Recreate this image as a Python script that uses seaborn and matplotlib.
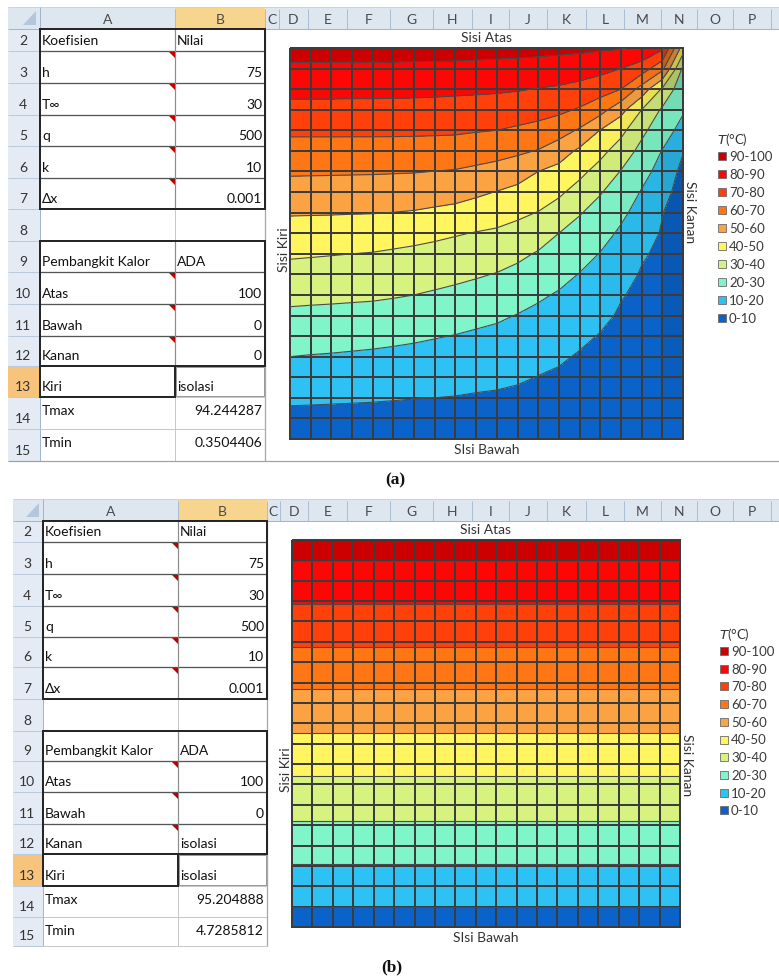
import numpy as np
import matplotlib
matplotlib.use("Agg")
import matplotlib.pyplot as plt
import seaborn as sns
from matplotlib.colors import ListedColormap
from matplotlib.patches import Rectangle, Polygon

# ---------------- data ----------------
band_levels = [0, 10, 20, 30, 40, 50, 60, 70, 80, 90, 100]
band_labels = ["0-10", "10-20", "20-30", "30-40", "40-50",
               "50-60", "60-70", "70-80", "80-90", "90-100"]
band_colors = ["#0B63C9", "#2DC1F4", "#80F5C9", "#D7F27F", "#FFF55E",
               "#FBA243", "#FF7614", "#FF400B", "#FF0606", "#CC0000"]

col_letters = list("ABCDEFGHIJKLMNOP")
row_numbers = list(range(2, 16))
sheet_labels = ["Koefisien", "h", "T\u221e", "q", "k", "\u0394x", "",
                "Pembangkit Kalor", "Atas", "Bawah", "Kanan", "Kiri", "Tmax", "Tmin"]
sheet_values_a = ["Nilai", "75", "30", "500", "10", "0.001", "",
                  "ADA", "100", "0", "0", "isolasi", "94.244287", "0.3504406"]
sheet_values_b = ["Nilai", "75", "30", "500", "10", "0.001", "",
                  "ADA", "100", "0", "isolasi", "isolasi", "95.204888", "4.7285812"]
side_labels = ["Sisi Atas", "SIsi Bawah", "Sisi Kiri", "Sisi Kanan"]
legend_title = "$\\mathit{T}$(\u00b0C)"
panel_tags = ["(a)", "(b)"]

# temperature field of panel (a): one list per grid column (left -> right),
# each from top row to bottom row
temp_a_cols = [
    [94.2, 88.2, 82.7, 77.2, 71.7, 66.4, 61.2, 56.0, 50.8, 46.0, 41.2, 36.7, 32.4, 28.2, 24.1, 20.0, 15.8, 11.6, 7.5, 3.5],
    [94.2, 88.2, 82.6, 77.2, 71.7, 66.4, 61.1, 55.9, 50.7, 45.7, 40.8, 36.4, 32.1, 27.9, 23.7, 19.6, 15.5, 11.4, 7.4, 3.5],
    [94.1, 88.2, 82.6, 77.2, 71.7, 66.4, 61.0, 55.8, 50.6, 45.5, 40.4, 36.1, 31.9, 27.6, 23.4, 19.3, 15.2, 11.2, 7.3, 3.5],
    [94.0, 88.2, 82.5, 77.1, 71.7, 66.3, 60.9, 55.6, 50.4, 45.2, 40.0, 35.7, 31.6, 27.3, 23.0, 18.9, 14.9, 11.0, 7.2, 3.4],
    [94.0, 88.2, 82.5, 77.1, 71.7, 66.3, 60.8, 55.5, 50.3, 44.9, 39.6, 35.4, 31.3, 27.0, 22.6, 18.5, 14.6, 10.8, 7.1, 3.4],
    [93.9, 88.2, 82.4, 77.0, 71.7, 66.2, 60.6, 55.2, 49.9, 44.0, 38.8, 34.7, 30.7, 26.4, 22.0, 18.0, 14.2, 10.5, 6.9, 3.35],
    [93.8, 88.1, 82.3, 76.9, 71.6, 66.1, 60.4, 54.9, 49.4, 43.1, 38.0, 34.0, 30.0, 25.7, 21.3, 17.5, 13.8, 10.2, 6.7, 3.3],
    [93.7, 88.0, 82.1, 76.7, 71.5, 65.8, 59.9, 54.2, 48.4, 41.9, 37.2, 33.1, 29.0, 24.8, 20.5, 16.9, 13.4, 10.0, 6.6, 3.25],
    [93.6, 87.9, 81.8, 76.4, 71.3, 65.5, 59.4, 53.5, 47.3, 40.7, 36.3, 32.1, 27.9, 23.8, 19.7, 16.3, 13.0, 9.7, 6.4, 3.2],
    [93.4, 87.6, 81.5, 76.0, 70.6, 64.4, 58.1, 51.7, 45.5, 39.6, 35.2, 30.9, 26.7, 22.5, 18.7, 15.6, 12.4, 9.2, 6.2, 3.15],
    [93.2, 87.3, 81.2, 75.6, 70.0, 63.3, 56.6, 49.7, 44.0, 38.6, 34.1, 29.6, 25.4, 21.3, 17.9, 14.8, 11.8, 8.9, 6.0, 3.1],
    [93.0, 86.9, 80.6, 74.7, 68.6, 61.7, 54.2, 47.5, 41.9, 36.8, 32.0, 27.6, 23.6, 19.7, 16.8, 13.9, 11.0, 8.3, 5.6, 3.0],
    [92.7, 86.3, 79.7, 73.6, 67.0, 59.5, 50.0, 44.9, 39.7, 34.3, 29.2, 25.2, 21.2, 18.1, 15.3, 12.5, 9.8, 7.5, 5.2, 2.9],
    [92.3, 85.7, 78.7, 72.0, 64.2, 54.7, 47.0, 41.6, 35.9, 30.0, 26.3, 22.6, 19.2, 16.5, 13.8, 11.1, 8.8, 6.8, 4.8, 2.75],
    [91.9, 84.7, 76.9, 69.0, 58.8, 48.2, 42.4, 36.5, 30.6, 26.8, 23.2, 19.7, 17.0, 14.3, 11.6, 9.3, 7.6, 6.0, 4.3, 2.6],
    [91.3, 82.8, 74.2, 63.8, 49.7, 42.8, 36.5, 30.6, 26.8, 23.2, 19.7, 17.1, 14.5, 11.8, 9.6, 8.1, 6.7, 5.2, 3.8, 2.35],
    [90.6, 80.0, 70.0, 53.3, 42.7, 35.6, 29.6, 25.8, 21.9, 18.6, 15.9, 13.2, 10.5, 9.1, 7.9, 6.7, 5.5, 4.4, 3.2, 2.1],
    [88.0, 75.3, 56.0, 40.0, 32.3, 27.2, 23.2, 19.4, 16.6, 13.7, 10.9, 9.3, 8.4, 7.4, 6.5, 5.5, 4.6, 3.6, 2.7, 1.7],
    [82.0, 62.5, 38.8, 28.6, 24.1, 19.7, 16.6, 13.4, 10.3, 9.3, 8.4, 7.6, 6.8, 5.9, 5.1, 4.3, 3.4, 2.6, 1.8, 1.0],
    [45.0, 28.0, 23.0, 21.0, 17.0, 10.5, 7.5, 5.8, 4.6, 3.8, 3.2, 2.7, 2.3, 1.9, 1.6, 1.3, 1.0, 0.8, 0.55, 0.35],
]
# panel (b): temperature only varies from top row to bottom row
temp_b_profile = [95.2, 90.1, 85.4, 80.7, 76.0, 71.2, 66.2, 61.4, 56.7, 52.3,
                  47.6, 42.8, 38.2, 33.6, 29.0, 24.2, 19.5, 14.8, 10.1, 4.7]
n_grid_cols_b = 20

# ---------------- setup ----------------
sns.set_theme(style="white")
plt.rcParams['font.family'] = ['Lato', 'DejaVu Sans']
W, H = 779, 979
fig = plt.figure(figsize=(W / 100, H / 100), dpi=100)
fig.patch.set_facecolor("white")
cv = fig.add_axes([0, 0, 1, 1])
cv.set_xlim(0, W)
cv.set_ylim(H, 0)
cv.axis("off")

FS = 10
PX = 0.72  # points per pixel


def line(x0, y0, x1, y1, c, wpx, z=3):
    cv.plot([x0, x1], [y0, y1], color=c, lw=wpx * PX, solid_capstyle="butt", zorder=z)


def draw_sheet(g, labels, values):
    x0, hx = g["x0"], g["hx"]
    ht, hb = g["hdr"]
    cb = g["cols"]
    rb = g["rows"]
    cv.add_patch(Rectangle((x0, ht), W - x0, hb - ht, fc="#DEE6F0", ec="none", zorder=1))
    line(x0, hb, W, hb, "#9EB6CE", 1)
    line(x0, ht, W, ht, "#C5D3E3", 1)
    cv.add_patch(Rectangle((x0, ht), hx - x0, hb - ht, fc="#DEE6F0", ec="none", zorder=1))
    cv.add_patch(Polygon([(hx - 4, ht + 4), (hx - 4, hb - 4), (hx - 17, hb - 4)],
                         closed=True, fc="#B4C6DC", ec="none", zorder=2))
    line(hx, ht, hx, hb, "#9EB6CE", 1)
    for k, letter in enumerate(col_letters):
        l, r = cb[k], cb[k + 1]
        if letter == "B":
            cv.add_patch(Rectangle((l, ht), r - l, hb - ht, fc="#F7D58F", ec="none", zorder=1.5))
        line(r, ht + 2, r, hb, "#A9BDD4", 1)
        cv.text((l + r) / 2, (ht + hb) / 2 + 1, letter, ha="center", va="center",
                fontsize=FS, color="#4A4A4A", zorder=4)
    cv.add_patch(Rectangle((x0, hb), hx - x0, rb[-1] - hb, fc="#E4EBF5", ec="none", zorder=1))
    line(hx, hb, hx, rb[-1], "#9EB6CE", 1)
    for k, num in enumerate(row_numbers):
        t, b = rb[k], rb[k + 1]
        if num == 13:
            cv.add_patch(Rectangle((x0, t), hx - x0, b - t, fc="#F8C37A", ec="none", zorder=1.5))
        line(x0, b, hx, b, "#B9CADD", 1)
        cv.text((x0 + hx) / 2 - 1, b - 11, str(num), ha="center", va="center",
                fontsize=FS, color="#333333", zorder=4)
    cA, cB, cC = cb[0], cb[1], cb[2]
    cv.add_patch(Rectangle((cA, hb), cC - cA, rb[-1] - hb, fc="white", ec="none", zorder=1))
    for k in range(len(row_numbers)):
        line(cA, rb[k + 1], cC, rb[k + 1], "#C8C8C8", 1, z=2)
    line(cB, hb, cB, rb[-1], "#C8C8C8", 1, z=2)
    line(cC, hb, cC, rb[-1], "#A8A8A8", 1.3, z=2)
    for (r0, r1, xr) in [(0, 6, cC), (7, 11, cC)]:
        for k in range(r0 + 1, r1):
            line(cA, rb[k], xr, rb[k], "#555555", 1.3, z=3)
        line(cB, rb[r0], cB, rb[r1], "#8C8C8C", 1.2, z=3)
        cv.add_patch(Rectangle((cA, rb[r0]), xr - cA, rb[r1] - rb[r0], fc="none",
                               ec="#262626", lw=2.0 * PX, zorder=4))
        for k in range(r0 + 1, r1):
            cv.add_patch(Polygon([(cB - 6, rb[k] + 1), (cB, rb[k] + 1), (cB, rb[k] + 7)],
                                 closed=True, fc="#C00000", ec="none", zorder=5))
    cv.add_patch(Rectangle((cA, rb[11]), cB - cA, rb[12] - rb[11], fc="none",
                           ec="#262626", lw=2.0 * PX, zorder=4))
    cv.add_patch(Rectangle((cB + 1, rb[11] + 1), cC - cB - 2, rb[12] - rb[11] - 2, fc="none",
                           ec="#9A9A9A", lw=1.0 * PX, zorder=4))
    for k, (lab, val) in enumerate(zip(labels, values)):
        t, b = rb[k], rb[k + 1]
        yy = t + 13 if k >= 12 else b - 11
        if lab:
            cv.text(cA + 2, yy, lab, ha="left", va="center", fontsize=FS, color="#111111", zorder=6)
        if val:
            try:
                float(val)
                cv.text(cC - 3, yy, val, ha="right", va="center", fontsize=FS, color="#111111", zorder=6)
            except ValueError:
                cv.text(cB + 2, yy, val, ha="left", va="center", fontsize=FS, color="#111111", zorder=6)


shade_cmap = ListedColormap([(0, 0, 0, a) for a in np.linspace(0, 1, 256)])


def draw_field(box, field, shade):
    x0, y0, x1, y1 = box
    ax = fig.add_axes([x0 / W, 1 - y1 / H, (x1 - x0) / W, (y1 - y0) / H])
    sns.heatmap(shade, ax=ax, cmap=shade_cmap, vmin=0, vmax=1, cbar=False,
                linewidths=1.1, linecolor="#3c3c3c", xticklabels=False, yticklabels=False)
    ax.collections[0].set_clip_on(False)
    xs = np.arange(field.shape[1])
    ys = np.arange(field.shape[0])
    ax.contourf(xs, ys, field, levels=band_levels, colors=band_colors, zorder=0.5)
    ax.contour(xs, ys, field, levels=band_levels[1:-1], colors="#4a4a4a",
               linewidths=0.8, zorder=1.6)
    ax.set_xlim(0, field.shape[1] - 1)
    ax.set_ylim(field.shape[0] - 1, 0)
    ax.axis("off")
    return ax


def side_shade(field):
    drop = field[:, :-1] - field[:, 1:]
    drop_c = 0.5 * (drop[:-1] + drop[1:])
    tm = 0.25 * (field[:-1, :-1] + field[1:, :-1] + field[:-1, 1:] + field[1:, 1:])
    return np.clip(0.45 * drop_c / (tm + 10) - 0.04, 0, 0.3)


def draw_chart(c):
    x0, y0, x1, y1 = c["grid"]
    cv.add_patch(Rectangle((c["bg"][0], c["bg"][1]), c["bg"][2] - c["bg"][0], c["bg"][3] - c["bg"][1],
                           fc="white", ec="none", zorder=2))
    draw_field(c["grid"], c["field"], side_shade(c["field"]))
    xm = (x0 + x1) / 2
    cv.text(xm, y0 - 11, side_labels[0], ha="center", va="center", fontsize=FS, color="#333333", zorder=6)
    cv.text(xm, y1 + 10, side_labels[1], ha="center", va="center", fontsize=FS, color="#333333", zorder=6)
    cv.text(x0 - 6, c["kiri_y"], side_labels[2], rotation=90, ha="center", va="center",
            fontsize=FS, color="#333333", zorder=6)
    cv.text(x1 + 7, c["kanan_y"], side_labels[3], rotation=-90, ha="center", va="center",
            fontsize=FS, color="#333333", zorder=6)
    lx, ly, dy = c["legend"]
    cv.text(lx - 1, ly - 17, legend_title, ha="left", va="center", fontsize=9.5, color="#333333", zorder=6)
    for k in range(len(band_labels)):
        idx = len(band_labels) - 1 - k
        yy = ly + k * dy
        cv.add_patch(Rectangle((lx, yy - 4), 8, 8, fc=band_colors[idx], ec="#6a6a6a",
                               lw=0.6, zorder=6))
        cv.text(lx + 11, yy, band_labels[idx], ha="left", va="center", fontsize=9.5,
                color="#3a3a3a", zorder=6)


geom_a = dict(x0=8, hx=40, hdr=(8, 30),
              cols=[40, 175, 265, 279, 308, 347, 390, 433, 472, 509, 547, 586, 624, 661, 697, 733, 771],
              rows=[30, 52, 84, 116, 147, 179, 210, 242, 273, 305, 337, 367, 398, 430, 462])
geom_b = dict(x0=13, hx=43, hdr=(500, 522),
              cols=[43, 178, 267, 280, 308, 347, 390, 433, 472, 509, 547, 586, 624, 661, 697, 733, 771],
              rows=[522, 543, 575, 607, 638, 668, 700, 732, 762, 793, 825, 855, 887, 918, 947])

field_a = np.array(temp_a_cols).T
field_b = np.repeat(np.array(temp_b_profile)[:, None], n_grid_cols_b, axis=1)

draw_sheet(geom_a, sheet_labels, sheet_values_a)
draw_sheet(geom_b, sheet_labels, sheet_values_b)
line(8, 462, W, 462, "#A0A0A0", 1.2)

draw_chart(dict(grid=(290, 49, 683, 440), bg=(268, 31, W, 461), field=field_a,
                kiri_y=250, kanan_y=212, legend=(718, 157, 18.0)))
draw_chart(dict(grid=(292, 541, 680, 928), bg=(269, 523, W, 947), field=field_b,
                kiri_y=770, kanan_y=765, legend=(720, 652, 17.7)))

cv.text(395, 480, panel_tags[0], ha="center", va="center", fontsize=12.5, fontweight="bold",
        family="Liberation Serif", color="#111111")
cv.text(392, 967, panel_tags[1], ha="center", va="center", fontsize=12.5, fontweight="bold",
        family="Liberation Serif", color="#111111")

fig.savefig("out.png", dpi=100, facecolor="white")
